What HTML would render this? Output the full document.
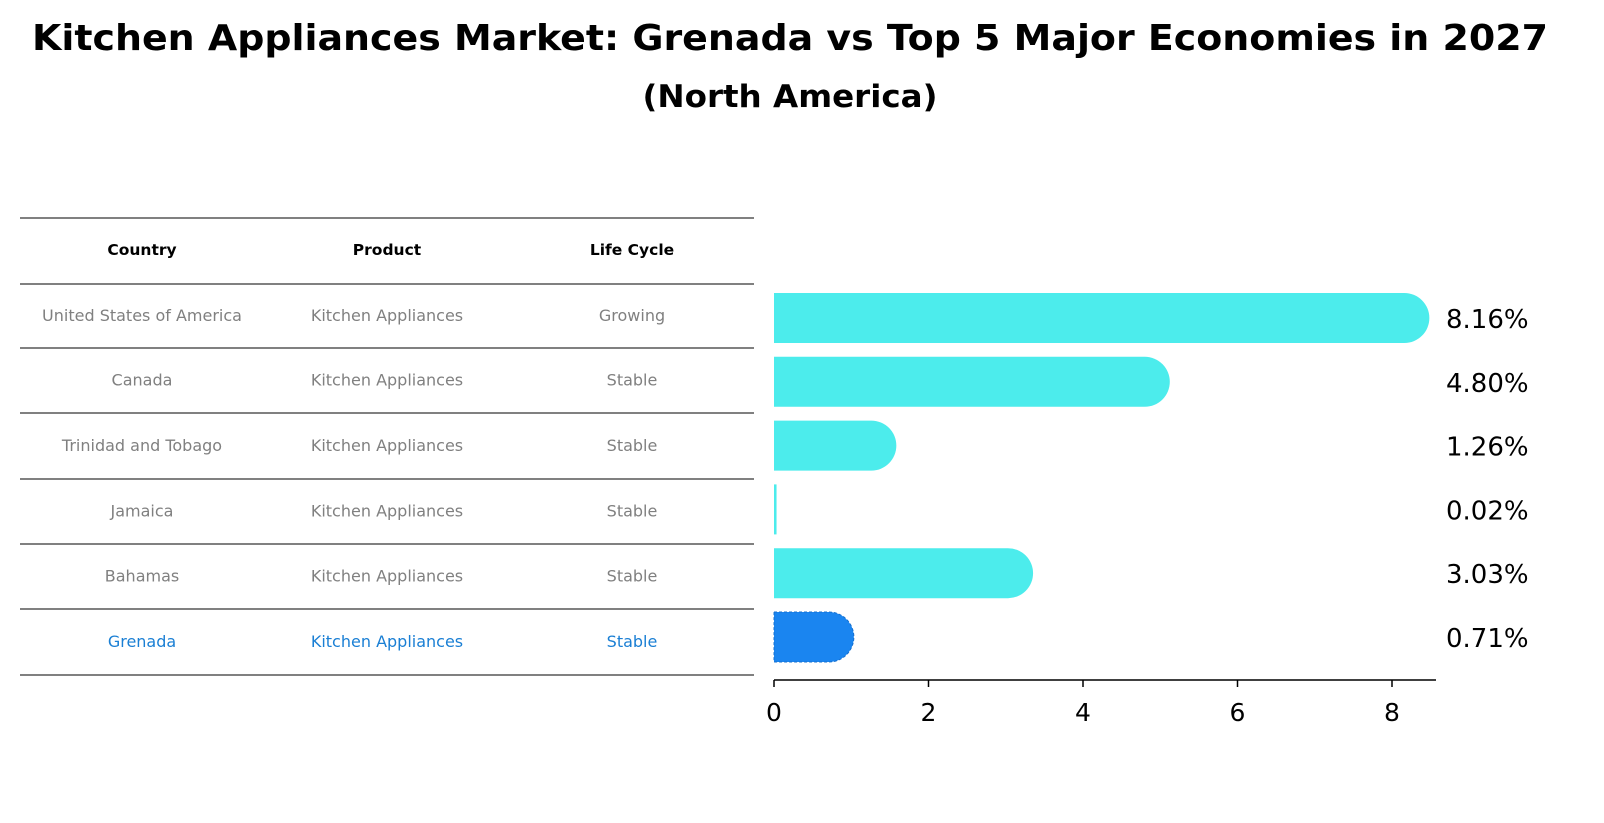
<!DOCTYPE html>
<html><head><meta charset="utf-8"><style>
body{margin:0;background:#fff;font-family:"Liberation Sans","DejaVu Sans",sans-serif}
svg{display:block}
</style></head><body>
<svg width="1604" height="823" xmlns="http://www.w3.org/2000/svg">
<text x="790" y="50" text-anchor="middle" font-size="36" font-weight="bold" font-family="DejaVu Sans, sans-serif" textLength="1516" lengthAdjust="spacingAndGlyphs">Kitchen Appliances Market: Grenada vs Top 5 Major Economies in 2027</text>
<text x="790" y="107" text-anchor="middle" font-size="31" font-weight="bold" font-family="DejaVu Sans, sans-serif" textLength="295" lengthAdjust="spacingAndGlyphs">(North America)</text>
<g id="table"></g>
<g id="bars"></g>
<g id="axis"></g>
</svg>
<script>
const countries=["United States of America","Canada","Trinidad and Tobago","Jamaica","Bahamas","Grenada"];
const products=["Kitchen Appliances","Kitchen Appliances","Kitchen Appliances","Kitchen Appliances","Kitchen Appliances","Kitchen Appliances"];
const lifeCycles=["Growing","Stable","Stable","Stable","Stable","Stable"];
const values=[8.16,4.80,1.26,0.02,3.03,0.71];
const ticks=[0,2,4,6,8];
const NS="http://www.w3.org/2000/svg";
function mk(tag,attrs,parent,text){const e=document.createElementNS(NS,tag);for(const k in attrs)e.setAttribute(k,attrs[k]);if(text!==undefined)e.textContent=text;parent.appendChild(e);return e;}
const x0=774,pxPer=77.25;
const xs=v=>x0+v*pxPer;
const rowY=i=>318+i*63.8;
const table=document.getElementById('table');
const lines=[218,284,348,413,479,544,609,675];
lines.forEach(y=>{const l=mk('line',{x1:20,x2:754,y1:y,y2:y,stroke:'#000','stroke-width':1},table);

});
const colX=[142,387,632];
["Country","Product","Life Cycle"].forEach((h,j)=>{const t=mk('text',{x:colX[j],y:255,'text-anchor':'middle','font-size':15.5,'font-weight':'bold','font-family':'DejaVu Sans, sans-serif'},table,h);

});
countries.forEach((c,i)=>{const y=(lines[i+1]+lines[i+2])/2+5;const col=i===countries.length-1?'#1a7fd4':'#808080';
[c,products[i],lifeCycles[i]].forEach((v,j)=>{const t=mk('text',{x:colX[j],y:y,'text-anchor':'middle','font-size':16,fill:col,'font-family':'DejaVu Sans, sans-serif'},table,v);

});});
const bars=document.getElementById('bars');
const h=50,r=25;
values.forEach((v,i)=>{const cy=rowY(i);const xe=xs(v);const last=i===values.length-1;
const fill=last?'#1a85f0':'#4cecec';
let d;
if(v<0.1){d=`M${x0},${cy-h/2}H${xe+1}V${cy+h/2}H${x0}Z`;}
else{d=`M${x0},${cy-h/2}H${xe}A${r},${r} 0 0 1 ${xe},${cy+h/2}H${x0}Z`;}
const p=mk('path',{d:d,fill:fill},bars);
if(last){p.setAttribute('stroke','#1570d0');p.setAttribute('stroke-dasharray','3,2');p.setAttribute('stroke-width','1');}


const t=mk('text',{x:1446,y:cy+10,'font-size':26,'font-family':'DejaVu Sans, sans-serif'},bars,v.toFixed(2)+'%');

});
const axis=document.getElementById('axis');
const al=mk('line',{x1:x0,x2:1436,y1:680,y2:680,stroke:'#000','stroke-width':1.5},axis);


ticks.forEach(tv=>{const x=xs(tv);
const tl=mk('line',{x1:x,x2:x,y1:680,y2:687,stroke:'#000','stroke-width':1.5},axis);


const t=mk('text',{x:x,y:721,'text-anchor':'middle','font-size':25,'font-family':'DejaVu Sans, sans-serif'},axis,String(tv));

});
</script>
</body></html>
